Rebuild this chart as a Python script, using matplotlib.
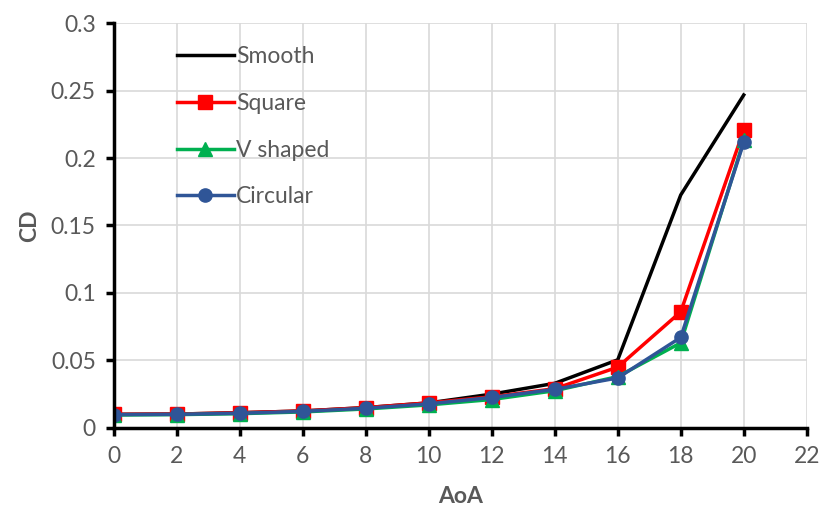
import matplotlib
matplotlib.use('Agg')
from matplotlib import pyplot as plt

plt.rcParams['font.family'] = ['Lato', 'DejaVu Sans']

aoa = [0, 2, 4, 6, 8, 10, 12, 14, 16, 18, 20]
cd_smooth = [0.0100, 0.0102, 0.0112, 0.0125, 0.0150, 0.0185, 0.0250, 0.0330, 0.0504, 0.1726, 0.2467]
cd_square = [0.0100, 0.0102, 0.0112, 0.0125, 0.0150, 0.0185, 0.0230, 0.0290, 0.0450, 0.0860, 0.2207]
cd_vshape = [0.0095, 0.0098, 0.0105, 0.0118, 0.0140, 0.0170, 0.0210, 0.0275, 0.0380, 0.0630, 0.2130]
cd_circ = [0.0098, 0.0100, 0.0108, 0.0122, 0.0145, 0.0178, 0.0225, 0.0285, 0.0370, 0.0670, 0.2115]

text_color = '#595959'
fontsize = 16.5

fig = plt.figure(figsize=(8.19, 5.13), dpi=100)
ax = fig.add_axes([0.139, 0.166, 0.846, 0.789])

ax.plot(aoa, cd_smooth, color='black', linewidth=2.5, label='Smooth')
ax.plot(aoa, cd_square, color='#ff0000', linewidth=2.5, marker='s', markersize=9.5, label='Square')
ax.plot(aoa, cd_vshape, color='#00b050', linewidth=2.5, marker='^', markersize=9.5, label='V shaped')
ax.plot(aoa, cd_circ, color='#2f5597', linewidth=2.5, marker='o', markersize=9.5, label='Circular')

ax.set_xlim(0, 22)
ax.set_ylim(0, 0.3)
ax.set_xticks(range(0, 23, 2))
ax.set_yticks([0, 0.05, 0.1, 0.15, 0.2, 0.25, 0.3])
ax.set_yticklabels(['0', '0.05', '0.1', '0.15', '0.2', '0.25', '0.3'])
ax.grid(True, color='#d9d9d9', linewidth=1.2)
ax.set_axisbelow(True)

for side in ['top', 'right']:
    ax.spines[side].set_visible(False)
for side in ['left', 'bottom']:
    ax.spines[side].set_linewidth(2.5)
    ax.spines[side].set_color('black')

ax.tick_params(axis='both', which='major', labelsize=fontsize, labelcolor=text_color,
               width=2.5, length=6, direction='out', color='black', pad=7)

ax.set_xlabel('AoA', fontsize=fontsize, fontweight='bold', color=text_color, labelpad=14)
ax.set_ylabel('CD', fontsize=fontsize, fontweight='bold', color=text_color, labelpad=8)

leg = ax.legend(loc='upper left', bbox_to_anchor=(0.062, 0.995), frameon=False,
                fontsize=fontsize, handlelength=2.45, handletextpad=0.1, labelspacing=1.13)
for t in leg.get_texts():
    t.set_color(text_color)

plt.savefig('out.png', dpi=100)
